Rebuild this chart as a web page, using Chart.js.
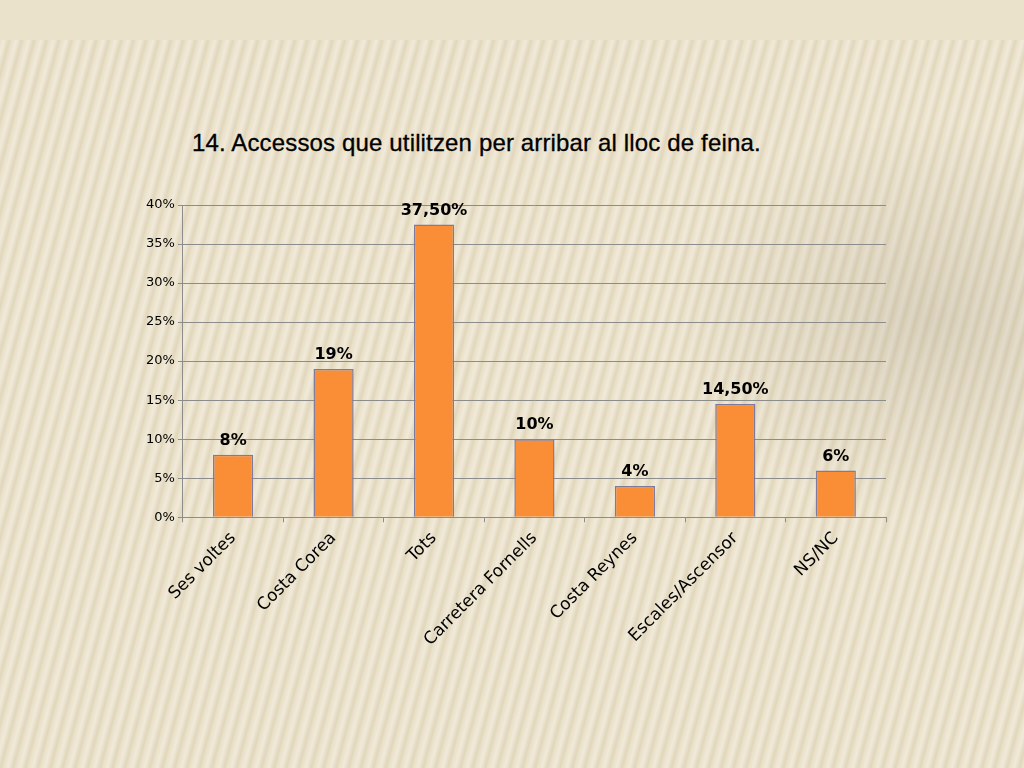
<!DOCTYPE html>
<html>
<head>
<meta charset="utf-8">
<script src="https://cdn.jsdelivr.net/npm/chart.js@4"></script>
<style>
  html, body { margin: 0; padding: 0; }
  body {
    width: 1024px; height: 768px; overflow: hidden; position: relative;
    background-color: #ebe2cb;
  }
  #bg {
    position: absolute; left: 0; top: 40px; width: 1024px; height: 728px;
    background:
      radial-gradient(ellipse 260px 200px at 930px 280px, rgba(150,140,120,0.22), rgba(150,140,120,0) 100%),
      repeating-linear-gradient(105deg, rgba(255,255,255,0.0) 0px, rgba(255,255,255,0.28) 4px, rgba(200,185,150,0.28) 9px, rgba(255,255,255,0.0) 12px);
  }
  #title {
    position: absolute; left: 192px; top: 129px;
    font-family: "Liberation Sans", Arial, sans-serif; font-size: 24px; color: #000;
    letter-spacing: 0.15px;
    -webkit-text-stroke: 0.3px #000;
  }
  canvas { position: absolute; left: 0; top: 0; }
</style>
</head>
<body>
<div id="bg"></div>
<div id="title">14. Accessos que utilitzen per arribar al lloc de feina.</div>
<canvas id="chart" width="1024" height="768"></canvas>
<script>
const categories = ['Ses voltes', 'Costa Corea', 'Tots', 'Carretera Fornells', 'Costa Reynes', 'Escales/Ascensor', 'NS/NC']
const values = [8, 19, 37.5, 10, 4, 14.5, 6]
const valueLabels = ['8%', '19%', '37,50%', '10%', '4%', '14,50%', '6%']
const yStep = 5
const yMax = 40

const barLabels = {
    id: 'barLabels',
    afterDatasetsDraw(chart) {
        const ctx = chart.ctx
        const meta = chart.getDatasetMeta(0)
        ctx.save()
        ctx.font = 'bold 16px "DejaVu Sans", sans-serif'
        ctx.fillStyle = '#000'
        ctx.textAlign = 'center'
        ctx.textBaseline = 'bottom'
        meta.data.forEach((bar, i) => {
            ctx.fillText(valueLabels[i], bar.x, bar.y - 6)
        })
        ctx.restore()
    }
}

const ctx = document.getElementById('chart').getContext('2d')
const chart = new Chart(ctx, {
    type: 'bar',
    data: {
        labels: categories,
        datasets: [{
            data: values,
            backgroundColor: '#f98e37',
            borderColor: '#7d7a9c',
            borderWidth: 1.5,
            barPercentage: 0.4,
            categoryPercentage: 1
        }]
    },
    options: {
        responsive: false,
        animation: false,
        devicePixelRatio: 1,
        layout: { padding: { left: 143, right: 138, top: 205, bottom: 112 } },
        plugins: { legend: { display: false }, tooltip: { enabled: false } },
        scales: {
            x: {
                grid: { display: true, drawOnChartArea: false, offset: true, color: '#8c8c8c', tickLength: 5 },
                border: { color: '#8c8c8c' },
                ticks: {
                    maxRotation: 45, minRotation: 45, color: '#000', autoSkip: false,
                    font: { family: '"DejaVu Sans", sans-serif', size: 17 },
                    padding: 6
                }
            },
            y: {
                min: 0, max: yMax,
                grid: { color: '#8c8c8c', tickLength: 5 },
                border: { color: '#8c8c8c' },
                ticks: {
                    stepSize: yStep, autoSkip: false,
                    color: '#000',
                    font: { family: '"DejaVu Sans", sans-serif', size: 13 },
                    callback: v => v + '%'
                }
            }
        }
    },
    plugins: [barLabels]
})
</script>
</body>
</html>
